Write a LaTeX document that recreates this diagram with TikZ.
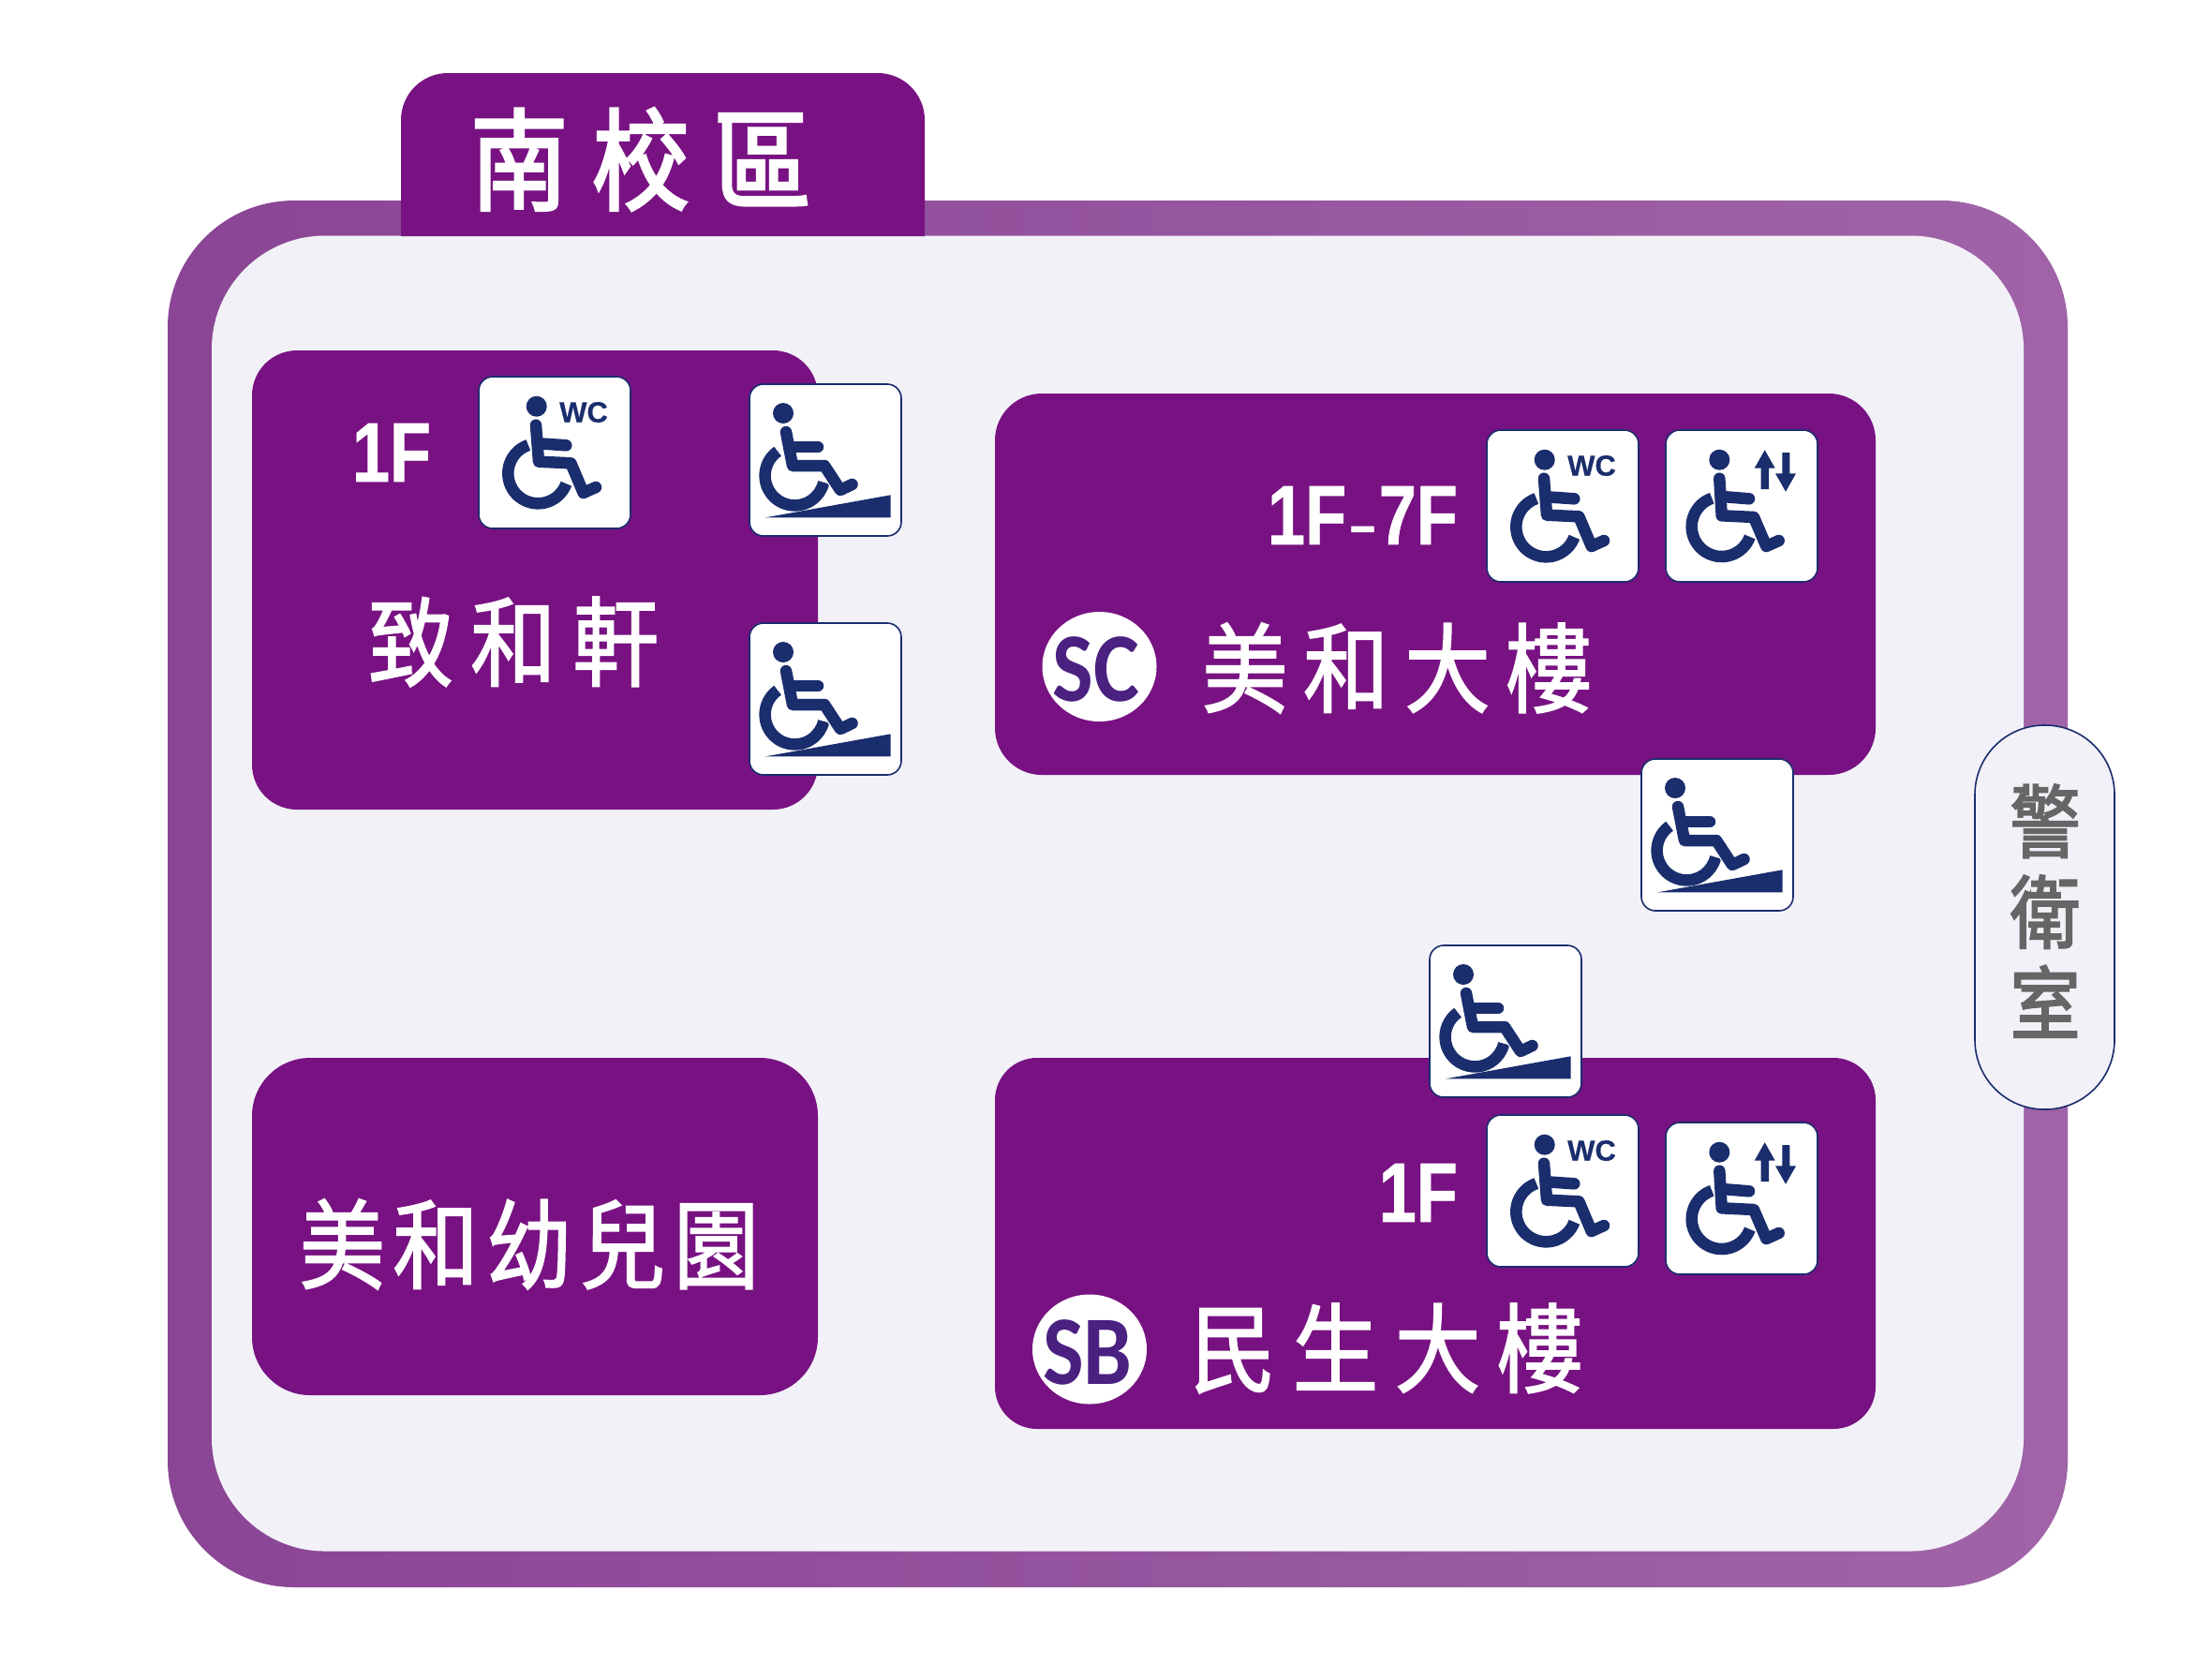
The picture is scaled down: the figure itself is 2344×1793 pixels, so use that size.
\documentclass[tikz,border=0pt]{standalone}
\usepackage{fontspec}
\setmainfont{Liberation Sans}
\newfontfamily\cjkf[FakeStretch=0.88,FakeBold=1.6]{Noto Sans CJK TC}
\newfontfamily\latinb[FakeStretch=0.8,FakeBold=0.8]{Liberation Sans Bold}
\newfontfamily\wcf[FakeBold=0.5]{Liberation Sans Bold}
\newfontfamily\codef[FakeStretch=0.88]{Carlito Bold}
\definecolor{plum}{HTML}{781282}
\definecolor{ringl}{HTML}{8A4595}
\definecolor{ringr}{HTML}{A063A8}
\definecolor{pale}{HTML}{F2F1F8}
\definecolor{navy}{HTML}{1A2D6D}
\definecolor{codec}{HTML}{4A2080}
\definecolor{guardgrey}{HTML}{666666}
\tikzset{
  every pic/.style={yscale=-1},
  panel/.style={fill=plum,inner sep=0pt,outer sep=0pt,draw=none},
  iconbox/.style={fill=white,draw=navy,line width=1.6pt,rounded corners=15pt,minimum size=162pt,inner sep=0pt},
  limb/.style={draw=navy,line width=12.5pt,line cap=round,line join=round},
  halo/.style={draw=white,line width=15pt,line cap=round,line join=round},
  wheel/.style={draw=navy,line width=12.5pt},
  panellabel/.style={text=white,inner sep=0pt,font=\cjkf},
  floorlabel/.style={text=white,inner sep=0pt},
  codedisc/.style={fill=white,ellipse,minimum width=122pt,minimum height=117pt,inner sep=0pt},
  seatwc/.pic={
    \node[iconbox] (-box) at (81,81) {};
    \draw[wheel] (63.3,103.3) ++(-109:32pt) arc[start angle=-109,end angle=-340,radius=32pt];
    \draw[halo] (61,51.7) -- (64,90.7) -- (98.3,92.3) -- (111.7,124) -- (125,118);
    \fill[navy] (61.7,31.7) circle[radius=11pt];
    \draw[limb] (61,51.7) -- (64,90.7) -- (98.3,92.3) -- (111.7,124) -- (125,118);
    \draw[limb] (64,71.3) -- (93.3,73.3);
    \node[text=navy,inner sep=0pt,font=\wcf\fontsize{31pt}{31pt}\selectfont] (-wc) at (112,38) {WC};
  },
  seatlift/.pic={
    \node[iconbox] (-box) at (81,81) {};
    \draw[wheel] (59.7,103) ++(-109:32pt) arc[start angle=-109,end angle=-340,radius=32pt];
    \draw[halo] (57.3,51.7) -- (59.7,91.3) -- (94,93) -- (107.3,124) -- (120.7,118);
    \fill[navy] (57.3,31.7) circle[radius=11pt];
    \draw[limb] (57.3,51.7) -- (59.7,91.3) -- (94,93) -- (107.3,124) -- (120.7,118);
    \draw[limb] (64,71.3) -- (89,73.3);
    \fill[navy] (105.7,21.3) -- (116.7,40.7) -- (110,40.7) -- (110,63) -- (101.7,63) -- (101.7,40.7) -- (94.7,40.7) -- cycle;
    \fill[navy] (128,65.7) -- (139,46.3) -- (132.3,46.3) -- (132.3,24) -- (124.3,24) -- (124.3,46.3) -- (117,46.3) -- cycle;
  },
  seatramp/.pic={
    \node[iconbox] (-box) at (81,81) {};
    \draw[wheel] (48.3,97.7) ++(-125:31.7pt) arc[start angle=-125,end angle=-347,radius=31.7pt];
    \fill[navy] (17.3,142.3) -- (150.7,118.3) -- (150.7,142.3) -- cycle;
    \draw[halo] (39,51) -- (46,87) -- (80,87) -- (97,113) -- (109.5,107);
    \fill[navy] (36,31) circle[radius=11pt];
    \draw[limb] (39,51) -- (46,87) -- (80,87) -- (97,113) -- (109.5,107);
    \draw[limb] (45,67) -- (73,67);
  }
}
\usetikzlibrary{shapes.geometric}
\begin{document}
\begin{tikzpicture}[x=1pt,y=1pt,yscale=-1]
\useasboundingbox (0,0) rectangle (2344,1792);
\fill[white] (0,0) rectangle (2344,1792);
% campus frame
\node[inner sep=0pt,minimum width=2028pt,minimum height=1480pt,rounded corners=135pt,left color=ringl,right color=ringr] (ring) at (1193,954) {};
\node[fill=pale,inner sep=0pt,minimum width=1934pt,minimum height=1404pt,rounded corners=121pt] (yard) at (1193,953.5) {};
\fill[plum,rounded corners=50pt] (428,252) -- (428,78) -- (987,78) -- (987,252);
\node[text=white,inner sep=0pt,font=\cjkf\fontsize{118pt}{118pt}\selectfont\addfontfeatures{LetterSpace=22,FakeBold=2.6}] (title) at (684,170) {南校區};
% buildings
\node[panel,minimum width=604pt,minimum height=490pt,rounded corners=48pt] (zhihe) at (571,619) {};
\node[panel,minimum width=940pt,minimum height=407pt,rounded corners=50pt] (sc) at (1532,623.5) {};
\node[panel,minimum width=604pt,minimum height=360pt,rounded corners=62pt] (kinder) at (571,1309) {};
\node[panel,minimum width=940pt,minimum height=396pt,rounded corners=45pt] (sb) at (1532,1327) {};
% building names
\node[panellabel,font=\cjkf\fontsize{104pt}{104pt}\selectfont\addfontfeatures{LetterSpace=17}] (zhihename) at (548,685) {致和軒};
\node[panellabel,font=\cjkf\fontsize{104pt}{104pt}\selectfont\addfontfeatures{LetterSpace=8}] (kindername) at (565,1328) {美和幼兒園};
\node[panellabel,font=\cjkf\fontsize{104pt}{104pt}\selectfont\addfontfeatures{LetterSpace=16}] (scname) at (1491,713) {美和大樓};
\node[panellabel,font=\cjkf\fontsize{104pt}{104pt}\selectfont\addfontfeatures{LetterSpace=17}] (sbname) at (1480,1439) {民生大樓};
% code discs
\node[codedisc] (scdisc) at (1173.5,711.5) {};
\node[text=codec,inner sep=0pt,font=\codef\fontsize{105pt}{105pt}\selectfont] (sccode) at (1170,714) {SC};
\node[codedisc] (sbdisc) at (1163,1440) {};
\node[text=codec,inner sep=0pt,font=\codef\fontsize{105pt}{105pt}\selectfont] (sbcode) at (1161,1443) {SB};
% floors
\node[floorlabel,font=\latinb\fontsize{90pt}{90pt}\selectfont] (f1) at (418,483) {1F};
\node[floorlabel,anchor=east,font=\latinb\fontsize{90pt}{90pt}\selectfont] (f2) at (1556,550) {1F\kern4pt\raisebox{0pt}{\fontsize{60pt}{60pt}\selectfont –}\kern4pt 7F};
\node[floorlabel,anchor=east,font=\latinb\fontsize{90pt}{90pt}\selectfont] (f3) at (1556,1273) {1F};
% icons
\pic (i1) at (511,402) {seatwc};
\pic (i2) at (800,410) {seatramp};
\pic (i3) at (800,665) {seatramp};
\pic (i4) at (1587,459) {seatwc};
\pic (i5) at (1778,459) {seatlift};
\pic (i6) at (1752,810) {seatramp};
\pic (i7) at (1526,1009) {seatramp};
\pic (i8) at (1587,1190) {seatwc};
\pic (i9) at (1778,1198) {seatlift};
% guard room
\node[fill=pale,draw=navy,line width=1.6pt,inner sep=0pt,minimum width=149pt,minimum height=410pt,rounded corners=74pt] (guardbox) at (2182.5,979) {};
\node[text=guardgrey,inner sep=0pt,align=center,font=\cjkf\fontsize{85pt}{97pt}\selectfont\addfontfeatures{FakeBold=2.4}] (guard) at (2183,972) {警\\衛\\室};
\end{tikzpicture}
\end{document}
